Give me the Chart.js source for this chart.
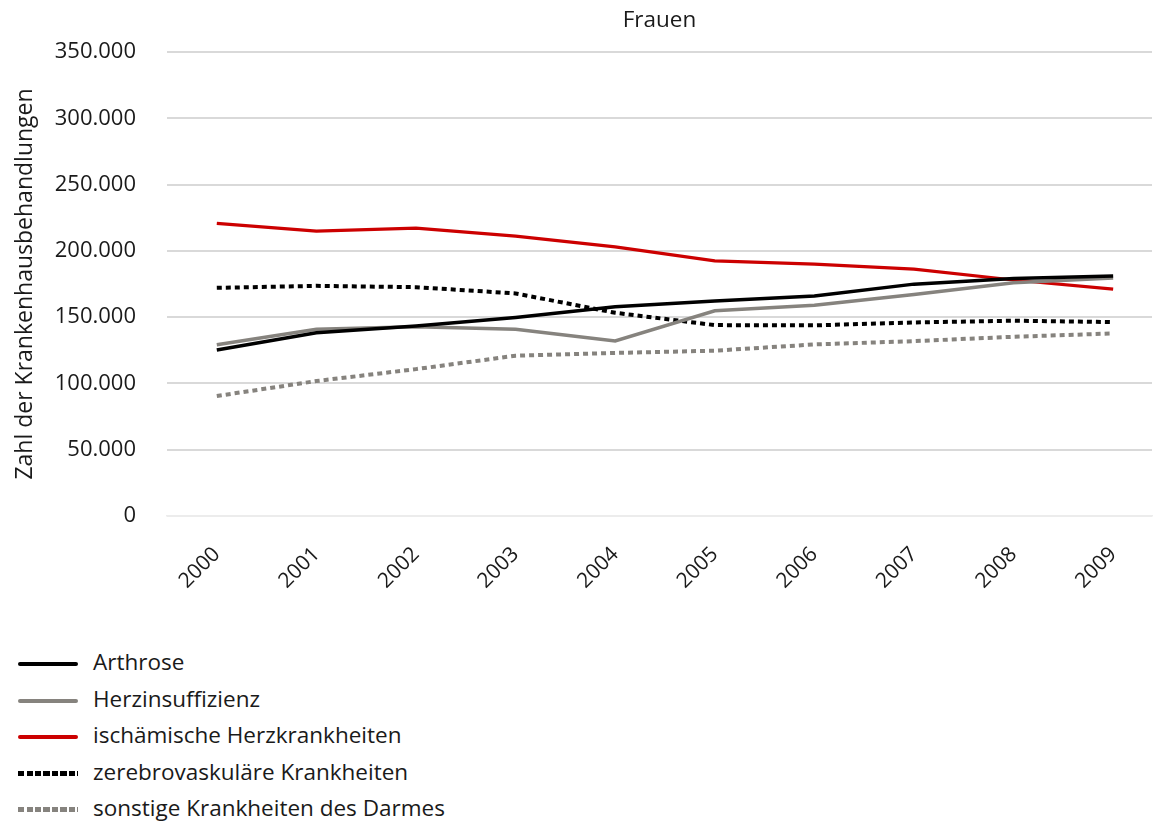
<!DOCTYPE html>
<html>
<head>
<meta charset="utf-8">
<script src="https://cdn.jsdelivr.net/npm/chart.js@4"></script>
<style>
  html, body { margin: 0; padding: 0; background: #fff; overflow: hidden; }
  #wrap { position: relative; width: 1158px; height: 821px; font-family: "Open Sans", "Liberation Sans", Arial, sans-serif; }
  #chart-box { position: absolute; left: 0; top: 0; width: 1158px; height: 630px; }
  #legend { position: absolute; left: 0; top: 645px; width: 600px; }
  .legend-row { position: absolute; left: 0; width: 600px; height: 36px; }
  .legend-line { position: absolute; left: 18px; width: 60px; }
  .legend-text { position: absolute; left: 93px; top: 2px; font-size: 22.5px; line-height: 30px; color: #1a1a1a; white-space: nowrap; }
</style>
</head>
<body>
<div id="wrap">
  <div id="chart-box"><canvas id="chart" width="1158" height="630"></canvas></div>
  <div id="legend"></div>
</div>
<script>
// Categories
const years = ['2000', '2001', '2002', '2003', '2004', '2005', '2006', '2007', '2008', '2009'];

// Series values (hospital treatments, women)
const arthrose = [125200, 138200, 143300, 149800, 157800, 162100, 165900, 174900, 179200, 181000];
const herzinsuffizienz = [129200, 140800, 142700, 140800, 132000, 154800, 158900, 167100, 175900, 179500];
const ischaemisch = [220700, 214900, 217200, 211100, 203000, 192500, 190000, 186200, 178000, 171200];
const zerebrovaskulaer = [172100, 173600, 172600, 167900, 153300, 144000, 143800, 146000, 147300, 146300];
const darm = [90500, 101800, 110800, 120900, 123000, 124700, 129400, 131900, 135200, 137700];

// Y tick values
const yTicks = [0, 50000, 100000, 150000, 200000, 250000, 300000, 350000];

const seriesNames = [
  'Arthrose',
  'Herzinsuffizienz',
  'ischämische Herzkrankheiten',
  'zerebrovaskuläre Krankheiten',
  'sonstige Krankheiten des Darmes'
];

const colors = {
  black: '#000000',
  gray: '#86837e',
  red: '#cc0000',
  grid: '#d9d9d9',
  text: '#1a1a1a'
};

const FONT = '"Open Sans", "Liberation Sans", Arial, sans-serif';

function toPoints(values) {
  return values.map((v, i) => ({ x: i, y: v }));
}

function formatDE(value) {
  return String(value).replace(/\B(?=(\d{3})+(?!\d))/g, '.');
}

const datasets = [
  { label: seriesNames[0], data: toPoints(arthrose), borderColor: colors.black, borderWidth: 3.5, dash: [] },
  { label: seriesNames[1], data: toPoints(herzinsuffizienz), borderColor: colors.gray, borderWidth: 3.5, dash: [] },
  { label: seriesNames[2], data: toPoints(ischaemisch), borderColor: colors.red, borderWidth: 3.2, dash: [] },
  { label: seriesNames[3], data: toPoints(zerebrovaskulaer), borderColor: colors.black, borderWidth: 4, dash: [5, 4] },
  { label: seriesNames[4], data: toPoints(darm), borderColor: colors.gray, borderWidth: 4, dash: [5, 4] }
].map((ds, i) => ({
  label: ds.label,
  data: ds.data,
  borderColor: ds.borderColor,
  backgroundColor: ds.borderColor,
  borderWidth: ds.borderWidth,
  borderDash: ds.dash,
  borderCapStyle: 'butt',
  pointRadius: 0,
  tension: 0,
  fill: false,
  order: i + 1
}));

const chart = new Chart(document.getElementById('chart').getContext('2d'), {
  type: 'line',
  data: { datasets: datasets },
  options: {
    responsive: false,
    animation: false,
    layout: { padding: { left: 0, right: 6, top: 0, bottom: 0 } },
    scales: {
      x: {
        type: 'linear',
        position: 'bottom',
        min: -0.5,
        max: 9.39,
        afterFit: scale => { scale.height = 114; },
        grid: { display: false, drawTicks: false },
        border: { display: true, color: '#ececec', width: 1.5 },
        ticks: {
          stepSize: 1,
          includeBounds: false,
          autoSkip: false,
          minRotation: 45,
          maxRotation: 45,
          padding: 26,
          color: colors.text,
          font: { family: FONT, size: 21 },
          callback: value => (Number.isInteger(value) && years[value] !== undefined) ? years[value] : ''
        }
      },
      y: {
        min: 0,
        max: 350000,
        afterFit: scale => { scale.width = 167; },
        afterBuildTicks: scale => { scale.ticks = yTicks.map(v => ({ value: v })); },
        grid: {
          drawTicks: false,
          lineWidth: 2,
          color: ctx => (ctx.tick && ctx.tick.value === 0) ? '#ececec' : colors.grid
        },
        border: { display: false },
        ticks: {
          padding: 31,
          color: colors.text,
          font: { family: FONT, size: 22 },
          callback: value => formatDE(value)
        },
        title: {
          display: true,
          text: 'Zahl der Krankenhausbehandlungen',
          color: colors.text,
          font: { family: FONT, size: 23 },
          padding: { top: 12, bottom: 0 }
        }
      }
    },
    plugins: {
      legend: { display: false },
      tooltip: { enabled: false },
      title: {
        display: true,
        text: 'Frauen',
        fullSize: false,
        color: colors.text,
        font: { family: FONT, size: 22.5, weight: 'normal', lineHeight: 24 / 22.5 },
        padding: { top: 9, bottom: 19 }
      }
    }
  }
});

// HTML legend, one entry per row
const legendEl = document.getElementById('legend');
chart.data.datasets.forEach((ds, i) => {
  const row = document.createElement('div');
  row.className = 'legend-row';
  row.style.top = (i * 36.5) + 'px';

  const line = document.createElement('div');
  line.className = 'legend-line';
  if (ds.borderDash.length) {
    line.style.top = '16px';
    line.style.height = '5px';
    line.style.background = `repeating-linear-gradient(90deg, ${ds.borderColor} 0 6px, transparent 6px 8.5px)`;
  } else {
    line.style.top = '17px';
    line.style.height = '4px';
    line.style.background = ds.borderColor;
    line.style.borderRadius = '2px';
  }

  const text = document.createElement('span');
  text.className = 'legend-text';
  text.textContent = ds.label;

  row.appendChild(line);
  row.appendChild(text);
  legendEl.appendChild(row);
});
</script>
</body>
</html>
